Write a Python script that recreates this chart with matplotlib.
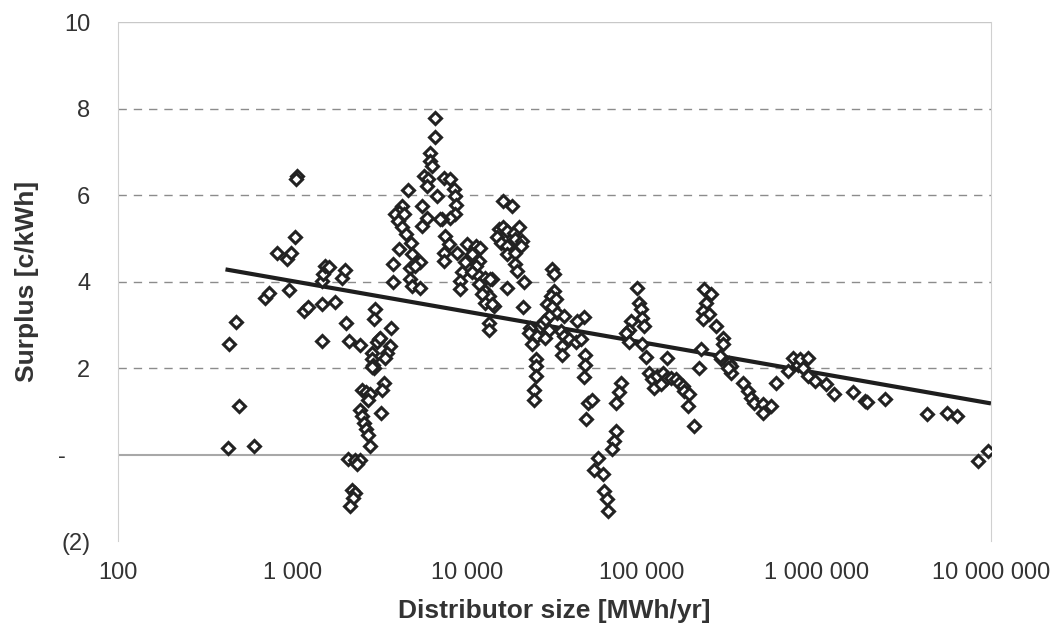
import numpy as np
import matplotlib
matplotlib.use("Agg")
import matplotlib.pyplot as plt
from matplotlib.ticker import FixedLocator
from matplotlib.transforms import ScaledTranslation

plt.rcParams['font.family'] = ['Liberation Sans', 'DejaVu Sans']

# distributor size [MWh/yr] and surplus [c/kWh]
size = [
    428, 432, 474, 496, 601,
    695, 733, 811, 925, 960, 980, 1033, 1057, 1045,
    1169, 1233, 1469, 1469, 1469, 1489, 1538, 1607, 1754, 1914, 2000, 2028, 2109, 2449,
    2440, 2500, 2560, 2640, 2700, 2760,
    2500, 2620, 2760, 2700,
    2845, 2870, 2880, 2910, 2860,
    3320, 3245, 3220,
    2977, 2940, 3139, 3042, 3177,
    3680, 3620, 3470, 3390,
    2090, 2280, 2440, 2330, 2180, 2280, 2230, 2140,
    6514, 6514, 6150, 6150, 6260, 5640, 6000, 5900, 6716,
    7350, 8020, 8380, 8570, 8630, 8570, 8020, 7180,
    4580, 4230, 4045, 3870, 4325, 4010, 4230, 4440, 4740, 4045, 3780, 3780,
    4830, 5160, 5400, 4730, 5050, 4730, 4830, 5400,
    5510, 5890, 5510, 7010,
    7500, 7830, 7350, 7350, 8750,
    10000, 11170, 11920, 10670, 11660, 11170, 10200, 9350, 9150, 10670, 11660, 12730, 13900, 9770, 9150,
    11660, 12730, 13300, 12730, 14220, 13300, 13300, 12200, 13600, 13900,
    16900, 16000, 18100,
    15170, 16000, 17000, 18500, 19760, 14800, 15600, 17000, 18800, 20650, 16900, 18800, 20300,
    18900, 19300, 21100, 20800,
    30700, 31400, 31400, 30100, 32100, 28800, 30700, 32800, 35900, 29400, 27500, 26300, 29400,
    25200, 23000, 22600, 25200, 28100, 34400, 35900, 38300, 41800, 44700, 46700, 42700, 35100,
    35100, 23600, 24700, 24900, 24900, 24100, 24100,
    47300, 47300, 46800, 48900, 52100, 47800,
    75900, 74100, 71600, 71000, 69500, 67400,
    56500, 53400, 60100, 60800, 63500, 64400,
    94400, 96600, 98700, 100900, 103200, 86500, 84600, 81000, 84600, 100900, 105400,
    110200, 115100, 123000, 131500, 137400, 117800, 128500, 140300,
    146800, 156900, 164000, 171400, 175100, 187100, 183000, 200000,
    228000, 249300, 233300, 223300, 243800, 223300, 266200, 218300, 213600,
    290500, 290500, 284200, 282000, 317700, 324500, 324500, 310000,
    378100, 404800, 422700, 441700, 493000, 493000, 550400, 587900,
    686000, 732500, 782800, 801000, 893700, 837700, 893700, 977000,
    1138000, 1270000, 1622000, 1892000, 1950000, 2466000, 4300000, 5570000, 6410000, 8400000, 9660000,
]
surplus = [
    0.15, 2.56, 3.06, 1.13, 0.19,
    3.61, 3.74, 4.65, 4.51, 3.80, 4.65, 5.03, 6.44, 6.37,
    3.32, 3.42, 3.49, 2.62, 4.01, 4.17, 4.36, 4.34, 3.53, 4.09, 4.26, 3.05, 2.62, 2.53,
    1.04, 0.89, 0.73, 0.58, 0.46, 0.19,
    1.50, 1.45, 1.40, 1.27,
    2.35, 2.20, 2.08, 1.99, 2.03,
    1.66, 1.50, 0.97,
    3.37, 3.13, 2.68, 2.59, 2.70,
    2.92, 2.51, 2.35, 2.24,
    -0.10, -0.13, -0.12, -0.23, -0.81, -0.89, -1.00, -1.20,
    7.79, 7.35, 6.98, 6.79, 6.67, 6.44, 6.37, 6.21, 5.98,
    6.40, 6.37, 6.15, 5.98, 5.76, 5.56, 5.48, 5.44,
    6.12, 5.75, 5.60, 5.56, 5.56, 5.40, 5.25, 5.09, 4.90, 4.75, 4.40, 3.99,
    4.63, 4.44, 4.44, 4.32, 4.36, 4.05, 3.90, 3.84,
    5.75, 5.48, 5.28, 5.44,
    5.05, 4.86, 4.67, 4.47, 4.67,
    4.86, 4.82, 4.78, 4.63, 4.47, 4.36, 4.28, 4.21, 4.01, 4.21, 4.13, 4.09, 4.05, 4.44, 3.82,
    3.94, 3.78, 3.66, 3.51, 3.43, 3.05, 2.89, 3.70, 4.05, 3.47,
    3.86, 5.86, 5.75,
    5.21, 5.25, 5.17, 5.13, 5.25, 5.02, 4.90, 4.82, 4.98, 4.94, 4.63, 4.67, 4.82,
    4.40, 4.24, 3.99, 3.40,
    4.28, 4.17, 3.78, 3.66, 3.59, 3.47, 3.40, 3.28, 3.20, 3.20, 3.09, 2.97, 2.89,
    2.89, 2.93, 2.82, 2.74, 2.70, 2.85, 2.74, 2.66, 2.59, 2.68, 3.19, 3.09, 2.51,
    2.29, 2.55, 2.20, 2.04, 1.81, 1.50, 1.27,
    2.31, 2.08, 1.80, 1.20, 1.27, 0.83,
    1.66, 1.44, 1.20, 0.54, 0.31, 0.12,
    -0.08, -0.35, -0.46, -0.85, -1.04, -1.31,
    3.86, 3.51, 3.36, 3.16, 2.97, 3.09, 2.89, 2.82, 2.59, 2.55, 2.26,
    1.89, 1.74, 1.81, 1.89, 1.74, 1.54, 1.62, 2.24,
    1.78, 1.74, 1.66, 1.58, 1.47, 1.39, 1.12, 0.66,
    3.82, 3.70, 3.51, 3.32, 3.24, 3.13, 2.97, 2.45, 2.01,
    2.70, 2.55, 2.20, 2.28, 2.12, 2.04, 1.89, 2.01,
    1.66, 1.47, 1.31, 1.20, 1.16, 0.96, 1.12, 1.66,
    1.93, 2.24, 2.08, 2.20, 2.24, 2.01, 1.81, 1.70,
    1.62, 1.39, 1.44, 1.23, 1.21, 1.29, 0.93, 0.96, 0.89, -0.14, 0.09,
]

# log trend line  y = a + b*log10(x)
trend_a = 6.13
trend_b = -0.707
trend_range = [413, 1.0e7]

x_ticks = [100, 1000, 10000, 100000, 1000000, 10000000]
x_labels = ["100", "1 000", "10 000", "100 000", "1 000 000", "10 000 000"]
y_ticks = [-2, 0, 2, 4, 6, 8, 10]
y_labels = ["(2)", "-", "2", "4", "6", "8", "10"]

fig = plt.figure(figsize=(10.55, 6.29), dpi=100)
ax = fig.add_axes([0.1118, 0.1399, 0.8275, 0.8251])

ax.set_xscale("log")
ax.set_xlim(100, 1.0e7)
ax.set_ylim(-2, 10)

# grid
for g in [2, 4, 6, 8]:
    ax.axhline(g, color="#8c8c8c", lw=1.0, dashes=(6, 5), zorder=1)
ax.axhline(0, color="#a8a8a8", lw=1.5, zorder=1)
ax.axhline(10, color="#c8c8c8", lw=1.0, zorder=1)

tx = np.logspace(np.log10(trend_range[0]), np.log10(trend_range[1]), 50)
ax.plot(tx, trend_a + trend_b * np.log10(tx), color="#1e1e1e", lw=3.0, zorder=3,
        solid_capstyle="butt")

ax.plot(size, surplus, linestyle="none", marker="D", ms=6.6, mfc="white",
        mec="#222222", mew=2.2, zorder=4)

for s in ["top", "bottom"]:
    ax.spines[s].set_visible(False)
ax.spines["left"].set_color("#d0d0d0")
ax.spines["right"].set_color("#d0d0d0")

ax.xaxis.set_major_locator(FixedLocator(x_ticks))
ax.xaxis.set_minor_locator(FixedLocator([]))
ax.set_xticklabels(x_labels)
ax.set_yticks(y_ticks)
ax.set_yticklabels(y_labels)
ax.tick_params(axis="x", length=0, pad=15, labelsize=17, colors="#333333")
ax.tick_params(axis="y", length=0, pad=20, labelsize=17, colors="#333333")

# the zero label sits further left in the original
zero_lab = ax.get_yticklabels()[1]
zero_lab.set_transform(zero_lab.get_transform() +
                       ScaledTranslation(-0.24, 0, fig.dpi_scale_trans))

ax.set_xlabel("Distributor size [MWh/yr]", fontsize=19, fontweight="bold",
              color="#333333", labelpad=11)
ax.set_ylabel("Surplus [c/kWh]", fontsize=19, fontweight="bold",
              color="#333333", labelpad=14)

fig.savefig("out.png", dpi=100)
